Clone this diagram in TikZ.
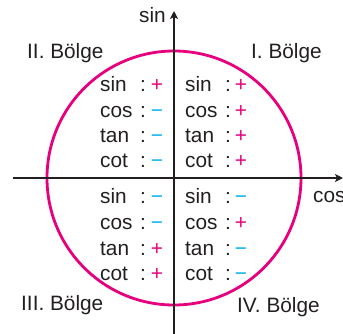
\documentclass[tikz,border=0pt]{standalone}
\usepackage{fontspec}
\setmainfont{Liberation Sans}
\usetikzlibrary{arrows.meta}
\definecolor{mag}{HTML}{E6007E}
\definecolor{cy}{HTML}{00AEEF}
\definecolor{ink}{HTML}{231F20}
\def\symP{+}
\def\symM{−}
\begin{document}
\begin{tikzpicture}[x=1pt,y=-1pt,
  txt/.style={font=\fontsize{20.8}{24}\selectfont, text=ink, inner sep=0pt},
  axis/.style={draw=ink, line width=1.8pt, -{Stealth[length=8pt,width=8pt,inset=2pt]}},
  signP/.style={txt, text=mag},
  signM/.style={txt, text=cy}]
\useasboundingbox (0,0) rectangle (343,333);
% circle
\draw[mag, line width=2.8pt] (174,178) circle[radius=127pt];
% axes
\coordinate (xl) at (13,178);
\coordinate (xr) at (343,178);
\coordinate (yb) at (174,334);
\coordinate (yt) at (174,11);
\draw[axis] (xl) -- (xr);
\draw[axis] (yb) -- (yt);
\node[txt, anchor=base east] (sinlab) at (166,22) {sin};
\node[txt, anchor=base west] (coslab) at (313,202) {cos};
% quadrant labels
\node[txt, anchor=base west] (q2) at (27,58) {II. Bölge};
\node[txt, anchor=base west] (q1) at (251,58) {I. Bölge};
\node[txt, anchor=base west] (q3) at (21,310) {III. Bölge};
\node[txt, anchor=base west] (q4) at (237,312) {IV. Bölge};
% sign tables
\foreach \f/\yy/\sa/\sb [count=\i] in {sin/91/P/P, cos/117/M/P, tan/142/M/P, cot/167/M/P,
                                        sin/203/M/M, cos/229/M/P, tan/255/P/M, cot/280/P/M}{
  \node[txt, anchor=base west] (l\i) at (100,\yy) {\f};
  \node[txt, anchor=base] (lc\i) at (143,\yy) {:};
  \node[sign\sa, anchor=base] (ls\i) at (157,\yy) {\csname sym\sa\endcsname};
  \node[txt, anchor=base west] (r\i) at (185,\yy) {\f};
  \node[txt, anchor=base] (rc\i) at (228,\yy) {:};
  \node[sign\sb, anchor=base] (rs\i) at (241,\yy) {\csname sym\sb\endcsname};
}
\end{tikzpicture}
\end{document}
